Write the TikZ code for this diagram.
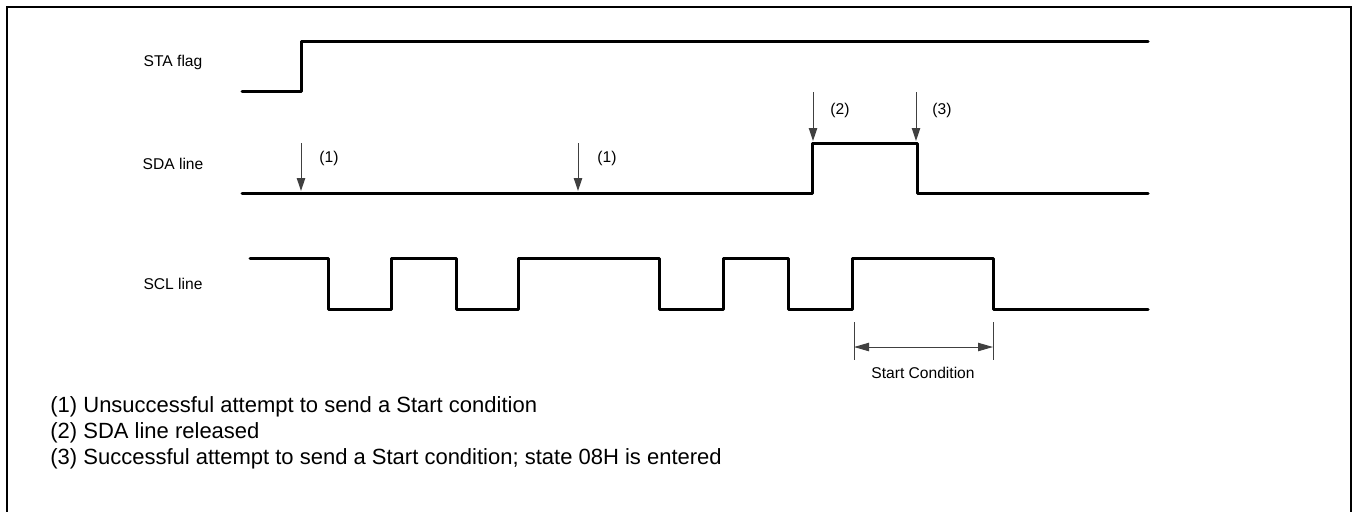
\documentclass[tikz,border=0pt]{standalone}
\usepackage{fontspec}
\setmainfont{Liberation Sans}
\usetikzlibrary{arrows.meta}
\begin{document}
\begin{tikzpicture}[x=0.5pt,y=-0.5pt,
  signal/.style={line width=1.5pt,line join=round,line cap=round},
  marker/.style={-{Triangle[length=6.5pt,width=4.2pt]},line width=0.5pt,black!75},
  span/.style={{Triangle[length=7.5pt,width=4.2pt]}-{Triangle[length=7.5pt,width=4.2pt]},line width=0.5pt,black!75},
  lbl/.style={font=\fontsize{7.8}{9}\selectfont,inner sep=0pt},
  note/.style={font=\fontsize{11}{13}\selectfont,anchor=west,inner sep=0pt}]
\useasboundingbox (0,0) rectangle (1356,511);
\draw[line width=1pt] (7,530) -- (7,7) -- (1351,7) -- (1351,530);
% signal names
\node[lbl] (sta) at (173,62) {STA flag};
\node[lbl] (sda) at (173,164) {SDA line};
\node[lbl] (scl) at (173,284) {SCL line};
% waveforms
\draw[signal] (242,91) -- (301,91) -- (301,41) -- (1148,41);
\draw[signal] (242,193) -- (812,193) -- (812,143) -- (917,143) -- (917,193) -- (1148,193);
\draw[signal] (250,258) -- (328,258) -- (328,309) -- (391,309) -- (391,258) -- (456,258)
  -- (456,309) -- (518,309) -- (518,258) -- (659,258) -- (659,309) -- (723,309)
  -- (723,258) -- (788,258) -- (788,309) -- (852,309) -- (852,258) -- (993,258)
  -- (993,309) -- (1148,309);
% event markers
\coordinate (m1a) at (301,143); \coordinate (e1a) at (301,191);
\coordinate (m1b) at (578,143); \coordinate (e1b) at (578,191);
\coordinate (m2) at (813,92); \coordinate (e2) at (813,141);
\coordinate (m3) at (916,92); \coordinate (e3) at (916,141);
\draw[marker] (m1a) -- (e1a);
\draw[marker] (m1b) -- (e1b);
\draw[marker] (m2) -- (e2);
\draw[marker] (m3) -- (e3);
\node[lbl] (n1a) at (329,158) {(1)};
\node[lbl] (n1b) at (607,158) {(1)};
\node[lbl] (n2) at (840,110) {(2)};
\node[lbl] (n3) at (942,110) {(3)};
% start condition
\coordinate (s1) at (854,322); \coordinate (s2) at (854,360);
\coordinate (t1) at (993,322); \coordinate (t2) at (993,360);
\draw[line width=0.5pt,black!75] (s1) -- (s2);
\draw[line width=0.5pt,black!75] (t1) -- (t2);
\draw[span] (854,347) -- (993,347);
\node[lbl] (start) at (923,373) {Start Condition};
% legend
\node[note] (l1) at (50,407) {(1) Unsuccessful attempt to send a Start condition};
\node[note] (l2) at (50,433) {(2) SDA line released};
\node[note] (l3) at (50,459) {(3) Successful attempt to send a Start condition; state 08H is entered};
\end{tikzpicture}
\end{document}
